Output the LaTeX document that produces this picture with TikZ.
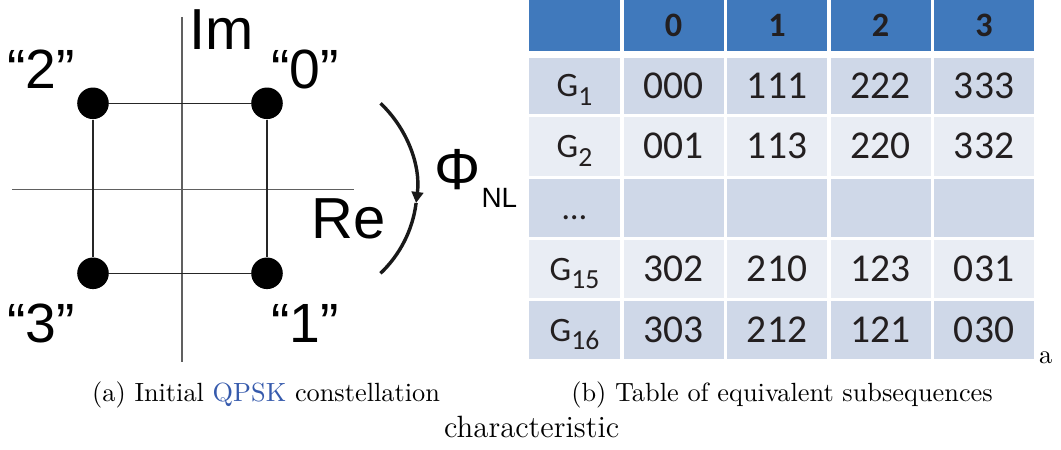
\documentclass[tikz,border=0pt]{standalone}
\usepackage{fontspec}
\newfontfamily\arialfont{Liberation Sans}
\newfontfamily\calibrifont{Carlito}
\usetikzlibrary{arrows.meta}
\definecolor{headblue}{RGB}{64,121,188}
\definecolor{rowdark}{RGB}{207,216,232}
\definecolor{rowlight}{RGB}{233,237,244}
\definecolor{linkblue}{RGB}{54,90,172}
\definecolor{ink}{RGB}{35,31,32}

\begin{document}
\begin{tikzpicture}[x=0.38pt,y=-0.38pt,
  axis/.style={gray!75!black,line width=0.5pt},
  edge/.style={black!85,line width=0.5pt},
  symbol/.style={circle,fill=black,inner sep=0pt,minimum size=12pt},
  quote/.style={font=\arialfont\fontsize{21}{21}\selectfont,inner sep=0pt,anchor=base},
  axlabel/.style={font=\arialfont\fontsize{22}{22}\selectfont,inner sep=0pt},
  phase/.style={line width=1.3pt,black!90},
  cell/.style={rectangle,inner sep=0pt,minimum width=38pt,text height=9.4pt,text depth=0pt,text=ink,font=\calibrifont\fontsize{15}{15}\selectfont},
  first/.style={minimum width=34.6pt},
  head/.style={cell,fill=headblue,minimum height=19.4pt,text height=8.2pt,font=\calibrifont\bfseries\fontsize{13}{13}\selectfont},
  dark/.style={cell,fill=rowdark,minimum height=#1},
  light/.style={cell,fill=rowlight,minimum height=#1},
  grp/.style={text height=8.4pt,font=\calibrifont\fontsize{13}{13}\selectfont},
  caption/.style={inner sep=0pt,anchor=base}]
  \useasboundingbox (0,0) rectangle (1061,450);
  % constellation
  \draw[axis] (182,17) -- (182,362);
  \draw[axis] (12,189.3) -- (354,189.3);
  \node[symbol] (s0) at (267,103.3) {};
  \node[symbol] (s1) at (267,273.3) {};
  \node[symbol] (s2) at (93,103.3) {};
  \node[symbol] (s3) at (93,273.3) {};
  \draw[edge] (s2) -- (s0) -- (s1) -- (s3) -- (s2);
  \node[quote] (q0) at (305,88.3) {“0”};
  \node[quote] (q1) at (305,343) {“1”};
  \node[quote] (q2) at (41,88.3) {“2”};
  \node[quote] (q3) at (41,343) {“3”};
  \node[axlabel,anchor=base west] (im) at (189,50) {Im};
  \node[axlabel,anchor=base east] (re) at (386,239) {Re};
  % nonlinear phase rotation
  \coordinate (arctop) at (380.5,103.3);
  \draw[phase,-{Triangle[length=4.2pt,width=4.4pt]}] (arctop) arc[start angle=-46.5,end angle=7.2,radius=117.2] coordinate (arcmid);
  \draw[phase] (arcmid) arc[start angle=7.2,end angle=46.5,radius=117.2];
  \node[axlabel,anchor=base west] (phi) at (434,190) {Φ};
  \node[inner sep=0pt,anchor=base west,font=\arialfont\fontsize{10.6}{10.6}\selectfont] (nl) at (481,208) {NL};
  % table of subsequences
  \node[head,first] (h0) at (574.5,25.5) {};
  \node[head] (h1) at (673.5,25.5) {0};
  \node[head] (h2) at (777,25.5) {1};
  \node[head] (h3) at (880.5,25.5) {2};
  \node[head] (h4) at (984,25.5) {3};
  \node[dark=21.1pt,first,grp] (g1) at (574.5,85.75) {G\raisebox{-3.4pt}{\fontsize{10.5}{10.5}\selectfont 1}};
  \node[dark=21.1pt] (a1) at (673.5,85.75) {000};
  \node[dark=21.1pt] (b1) at (777,85.75) {111};
  \node[dark=21.1pt] (c1) at (880.5,85.75) {222};
  \node[dark=21.1pt] (d1) at (984,85.75) {333};
  \node[light=22.4pt,first,grp] (g2) at (574.5,146.5) {G\raisebox{-3.4pt}{\fontsize{10.5}{10.5}\selectfont 2}};
  \node[light=22.4pt] (a2) at (673.5,146.5) {001};
  \node[light=22.4pt] (b2) at (777,146.5) {113};
  \node[light=22.4pt] (c2) at (880.5,146.5) {220};
  \node[light=22.4pt] (d2) at (984,146.5) {332};
  \node[dark=21.85pt,first,grp] (g3) at (574.5,208.25) {…};
  \node[dark=21.85pt] (a3) at (673.5,208.25) {};
  \node[dark=21.85pt] (b3) at (777,208.25) {};
  \node[dark=21.85pt] (c3) at (880.5,208.25) {};
  \node[dark=21.85pt] (d3) at (984,208.25) {};
  \node[light=21.7pt,first,grp] (g15) at (574.5,269) {G\raisebox{-3.4pt}{\fontsize{10.5}{10.5}\selectfont 15}};
  \node[light=21.7pt] (a15) at (673.5,269) {302};
  \node[light=21.7pt] (b15) at (777,269) {210};
  \node[light=21.7pt] (c15) at (880.5,269) {123};
  \node[light=21.7pt] (d15) at (984,269) {031};
  \node[dark=22pt,first,grp] (g16) at (574.5,330) {G\raisebox{-3.4pt}{\fontsize{10.5}{10.5}\selectfont 16}};
  \node[dark=22pt] (a16) at (673.5,330) {303};
  \node[dark=22pt] (b16) at (777,330) {212};
  \node[dark=22pt] (c16) at (880.5,330) {121};
  \node[dark=22pt] (d16) at (984,330) {030};
  % captions
  \node[caption,anchor=base west] (tag) at (1038.5,364) {a};
  \node[caption] (capa) at (266,402) {(a) Initial \textcolor{linkblue}{QPSK} constellation};
  \node[caption] (capb) at (782,402) {(b) Table of equivalent subsequences};
  \node[caption,font=\fontsize{11.7}{14}\selectfont] (capc) at (531.7,438) {characteristic};
\end{tikzpicture}
\end{document}
